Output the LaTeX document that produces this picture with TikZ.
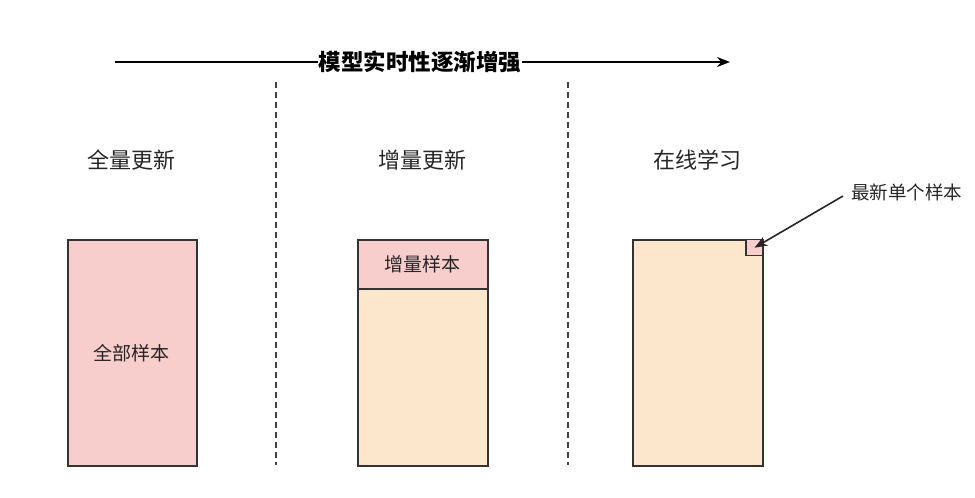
\documentclass[tikz,border=0pt]{standalone}
\usepackage{fontspec}
\setmainfont{Noto Sans CJK SC}
\usetikzlibrary{arrows.meta}
\definecolor{pinkfill}{HTML}{F8CECC}
\definecolor{peachfill}{HTML}{FCE6CC}
\definecolor{edge}{HTML}{333333}
\begin{document}
\begin{tikzpicture}[x=1pt,y=-1pt,
  title/.style={font=\fontsize{22}{24}\selectfont, text=black!85, inner sep=0pt},
  boxtext/.style={font=\fontsize{19}{21}\selectfont, text=black!85, inner sep=0pt},
  sample/.style={draw=edge, line width=1.7pt},
  divider/.style={draw=black!75, dashed, dash pattern=on 6pt off 4pt, line width=1.5pt},
  arrowline/.style={draw=black, line width=1.6pt, -{Stealth[length=13pt,width=10pt]}}
]
\useasboundingbox (0,0) rectangle (975,498);
% top arrow
\coordinate (as) at (115,62);
\coordinate (ae) at (730,62);
\draw[arrowline] (as) -- (ae);
\node[font=\bfseries\fontsize{22.5}{24}\selectfont, fill=white, inner xsep=1pt, inner ysep=2pt] (toplabel) at (420,62) {模型实时性逐渐增强};
% dividers
\coordinate (d1t) at (276,82);
\coordinate (d1b) at (276,465);
\coordinate (d2t) at (568,82);
\coordinate (d2b) at (568,465);
\draw[divider] (d1t) -- (d1b);
\draw[divider] (d2t) -- (d2b);
% titles
\node[title] (t1) at (131,160) {全量更新};
\node[title] (t2) at (422,160) {增量更新};
\node[title] (t3) at (697,160) {在线学习};
% box 1
\node[sample, fill=pinkfill, minimum width=129pt, minimum height=226pt, inner sep=0pt, anchor=north west] (b1) at (67,239) {};
\node[boxtext] (b1t) at (131,353) {全部样本};
% box 2
\node[sample, fill=peachfill, minimum width=130pt, minimum height=177pt, inner sep=0pt, anchor=north west] (b2) at (357,288) {};
\node[sample, fill=pinkfill, minimum width=130pt, minimum height=49pt, inner sep=0pt, anchor=north west, boxtext] (b2top) at (357,239) {增量样本};
% box 3
\node[sample, fill=peachfill, minimum width=130pt, minimum height=226pt, inner sep=0pt, anchor=north west] (b3) at (632,239) {};
\node[draw=edge, line width=1.4pt, fill=pinkfill, minimum width=17pt, minimum height=16pt, inner sep=0pt, anchor=north east] (sq) at (b3.north east) {};
% label + arrow
\node[font=\fontsize{18.5}{20}\selectfont, text=black!85, anchor=west, inner sep=0pt] (lab) at (851,192) {最新单个样本};
\coordinate (ls) at (843,196);
\draw[draw=black!85, line width=1.6pt, -{Stealth[length=13pt,width=10pt]}] (ls) -- (sq.center);
\end{tikzpicture}
\end{document}
